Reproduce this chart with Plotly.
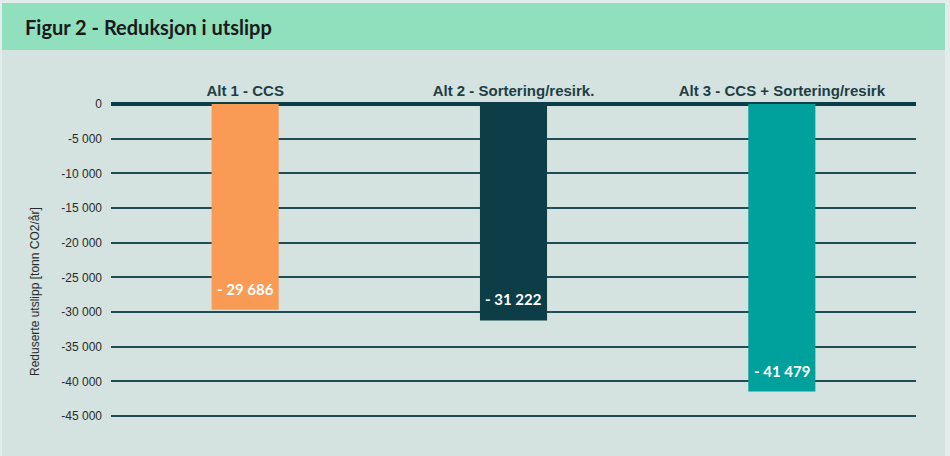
import plotly.graph_objects as go

categories = ["Alt 1 - CCS", "Alt 2 - Sortering/resirk.", "Alt 3 - CCS + Sortering/resirk"]
values = [-29686, -31222, -41479]
value_labels = ["- 29 686", "- 31 222", "- 41 479"]
bar_colors = ["#F99B55", "#0D3E47", "#00A09C"]
tick_vals = [0, -5000, -10000, -15000, -20000, -25000, -30000, -35000, -40000, -45000]
tick_text = ["0", "-5 000", "-10 000", "-15 000", "-20 000", "-25 000", "-30 000", "-35 000", "-40 000", "-45 000"]
title_text = "Figur 2 - Reduksjon i utslipp"
y_title = "Reduserte utslipp [tonn CO2/år]"

W, H = 950, 456
L, R, T, B = 111, 34, 104, 38
pw, ph = W - L - R, H - T - B
y_bottom = -45000 * ph / 312.0

def px(x):
    return (x - L) / pw

def py(y):
    return (H - B - y) / ph

fig = go.Figure()
fig.add_trace(go.Bar(
    x=categories, y=values, marker=dict(color=bar_colors, line=dict(width=0)),
    width=0.25, hoverinfo="skip",
))

shapes = [
    dict(type="rect", xref="paper", yref="paper", x0=px(0), x1=px(W), y0=py(H), y1=py(0),
         fillcolor="#E2ECEA", line=dict(width=0), layer="below"),
    dict(type="rect", xref="paper", yref="paper", x0=px(2), x1=px(945), y0=py(H), y1=py(50),
         fillcolor="#D4E3E0", line=dict(width=0), layer="below"),
    dict(type="rect", xref="paper", yref="paper", x0=px(2), x1=px(945), y0=py(50), y1=py(3),
         fillcolor="#90DFBD", line=dict(width=0), layer="below"),
]

annotations = [
    dict(text="<b>" + title_text + "</b>", xref="paper", yref="paper", x=px(23), y=py(27),
         xanchor="left", yanchor="middle", showarrow=False,
         font=dict(family="Lato", size=20, color="#1A1A1A")),
    dict(text=y_title, xref="paper", yref="paper", x=px(35), y=py(292),
         xanchor="center", yanchor="middle", textangle=-90, showarrow=False,
         font=dict(family="Arial, Liberation Sans", size=12, color="#2B2B2B")),
]
for c, v, t in zip(categories, values, value_labels):
    annotations.append(dict(text="<b>" + t + "</b>", x=c, y=v, xref="x", yref="y",
                            yshift=21, showarrow=False,
                            font=dict(family="Lato", size=15, color="white")))

fig.update_layout(
    width=W, height=H,
    margin=dict(l=L, r=R, t=T, b=B, pad=0),
    paper_bgcolor="#D4E3E0", plot_bgcolor="rgba(0,0,0,0)",
    showlegend=False, shapes=shapes, annotations=annotations,
    xaxis=dict(side="top", showgrid=False, showline=False, ticks="",
               tickvals=categories, ticktext=["<b>" + c + "</b>" for c in categories],
               tickfont=dict(family="Arial, Liberation Sans", size=15, color="#1E3E45"),
               ticklabelstandoff=4),
    yaxis=dict(range=[y_bottom, 0], tickvals=tick_vals, ticktext=tick_text,
               showgrid=True, gridcolor="#1F4C55", gridwidth=1.5,
               zeroline=True, zerolinecolor="#0B3D46", zerolinewidth=3.5,
               showline=False, ticks="", ticklabelstandoff=8,
               tickfont=dict(family="Arial, Liberation Sans", size=12, color="#2B2B2B")),
)

fig.write_html("out.html")
